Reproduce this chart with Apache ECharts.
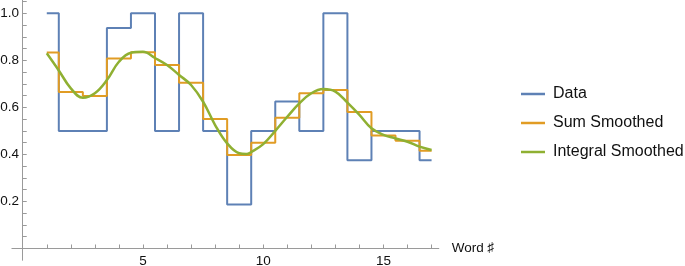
<!DOCTYPE html>
<html><head><meta charset="utf-8">
<script src="https://cdn.jsdelivr.net/npm/echarts@6/dist/echarts.min.js"></script>
<style>html,body{margin:0;padding:0;background:#fff}#c{width:685px;height:266px}</style>
</head><body><div id="c"></div>
<script>
const words = [1,2,3,4,5,6,7,8,9,10,11,12,13,14,15,16,17];
const dataValues = [1.0,0.5,0.5,0.9375,1.0,0.5,1.0,0.5,0.1875,0.5,0.625,0.5,1.0,0.375,0.5,0.5,0.375];
const sumSmoothed = [0.833,0.665,0.648,0.808,0.834,0.780,0.705,0.551,0.398,0.450,0.556,0.660,0.674,0.580,0.480,0.458,0.416];
const integralX = [1,1.5,2,2.5,3,3.5,4,4.5,5,5.5,6,6.5,7,7.5,8,8.5,9,9.3,9.5,10,10.5,11,11.5,12,12.5,13,13.5,14,14.5,15,15.5,16,16.5,17];
const integralY = [0.830,0.757,0.681,0.641,0.660,0.716,0.794,0.832,0.836,0.810,0.780,0.738,0.695,0.624,0.525,0.447,0.405,0.402,0.410,0.444,0.500,0.560,0.617,0.660,0.678,0.667,0.620,0.568,0.511,0.483,0.468,0.454,0.433,0.419];
const xTickValues = [1,2,3,4,5,6,7,8,9,10,11,12,13,14,15,16,17];
const xLabelValues = [5,10,15];
const yTickValues = [0.05,0.1,0.15,0.2,0.25,0.3,0.35,0.4,0.45,0.5,0.55,0.6,0.65,0.7,0.75,0.8,0.85,0.9,0.95,1.0,1.05];
const yLabelValues = [0.2,0.4,0.6,0.8,1.0];
const seriesNames = ['Data','Sum Smoothed','Integral Smoothed'];
const colors = ['#5E81B5','#E19C24','#8FB032'];

const chart = echarts.init(document.getElementById('c'), null, {renderer:'canvas'});
const axisGray = '#9a9a9a';
const font = 'Liberation Sans, Arial, sans-serif';
chart.setOption({
  animation:false,
  color: colors,
  grid:{left:11.9, top:0.36, width:426.9, height:259.9, containLabel:false, outerBoundsMode:'none'},
  xAxis:{type:'value', min:-0.45, max:17.3,
    name:'Word \u266F', nameLocation:'end', nameGap:13,
    nameTextStyle:{color:'#111', fontSize:13.5, fontFamily:font, verticalAlign:'middle'},
    axisLine:{onZero:true, lineStyle:{color:axisGray, width:1}},
    axisTick:{show:true, inside:true, length:4, customValues:xTickValues, lineStyle:{color:axisGray}},
    axisLabel:{customValues:xLabelValues, margin:-6, color:'#111', fontSize:13.5, fontFamily:font},
    splitLine:{show:false}},
  yAxis:{type:'value', min:-0.05, max:1.055,
    axisLine:{onZero:true, lineStyle:{color:axisGray, width:1}},
    axisTick:{show:true, inside:true, length:4, customValues:yTickValues, lineStyle:{color:axisGray}},
    axisLabel:{customValues:yLabelValues, margin:-7, color:'#111', fontSize:13.5, fontFamily:font,
      formatter:v=>v.toFixed(1)},
    splitLine:{show:false}},
  legend:{orient:'vertical', left:521, top:86, padding:0, itemGap:13, itemWidth:24, itemHeight:2.5, icon:'rect',
    textStyle:{color:'#111', fontSize:16, fontFamily:font, padding:[0,0,0,3]},
    data:seriesNames},
  series:[
    {name:seriesNames[0], type:'line', step:'middle', showSymbol:false, symbol:'none',
     lineStyle:{width:2, color:colors[0]}, itemStyle:{color:colors[0]},
     data: words.map((w,i)=>[w,dataValues[i]])},
    {name:seriesNames[1], type:'line', step:'middle', showSymbol:false, symbol:'none',
     lineStyle:{width:2, color:colors[1]}, itemStyle:{color:colors[1]},
     data: words.map((w,i)=>[w,sumSmoothed[i]])},
    {name:seriesNames[2], type:'line', smooth:0.4, showSymbol:false, symbol:'none',
     lineStyle:{width:2.5, color:colors[2]}, itemStyle:{color:colors[2]},
     data: integralX.map((x,i)=>[x,integralY[i]])}
  ]
});
</script></body></html>
